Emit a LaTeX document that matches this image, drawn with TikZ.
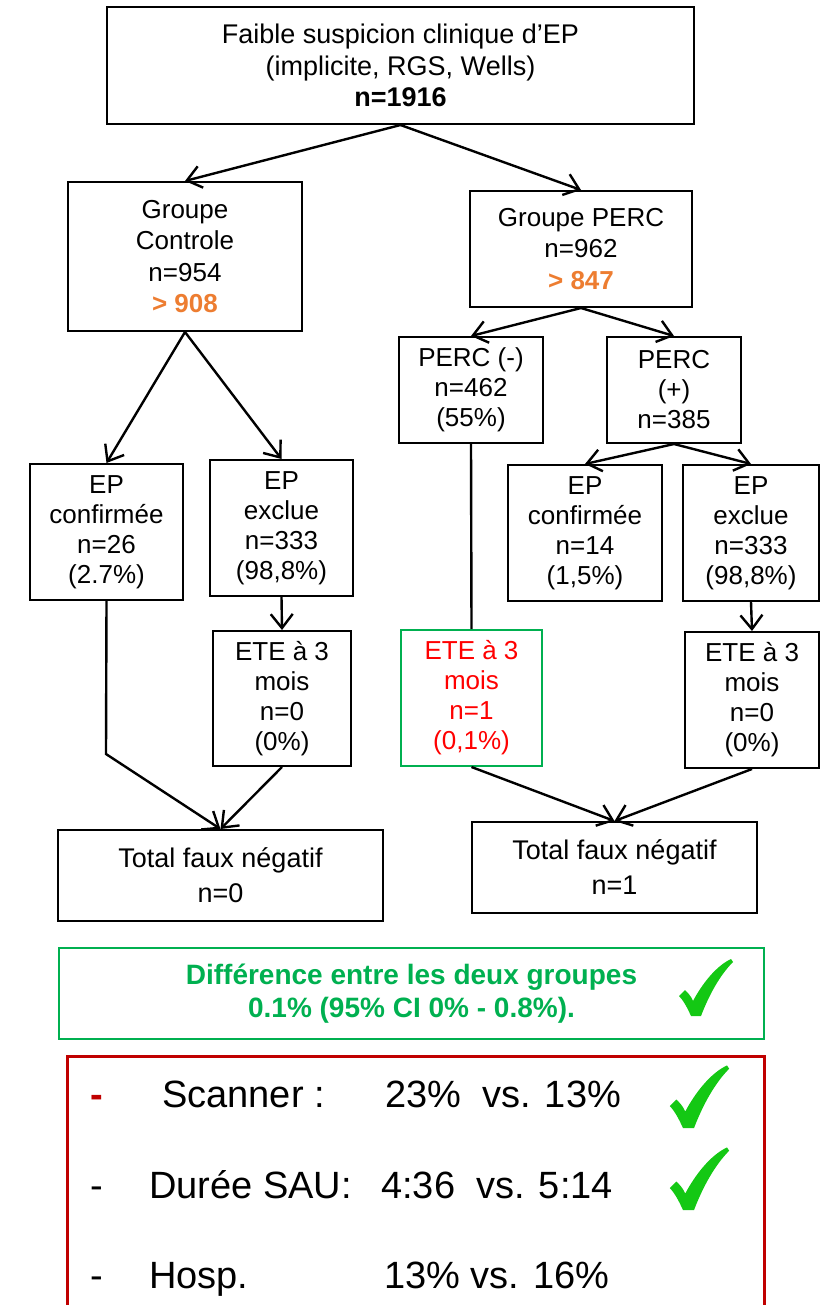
\documentclass[tikz,border=0pt]{standalone}
\usepackage{fontspec}
\setmainfont{Liberation Sans}
\usetikzlibrary{arrows.meta}
\definecolor{perco}{RGB}{237,125,49}
\definecolor{diffgreen}{RGB}{0,176,80}
\definecolor{okgreen}{RGB}{20,200,20}
\definecolor{darkred}{RGB}{192,0,0}
% green tick, #1 = bottom point, #2 = scale
\newcommand{\okmark}[2]{\fill[okgreen, shift={#1}, scale=#2] (0,1) .. controls (-4,-8) and (-8,-15) .. (-12,-19) -- (-6,-25) .. controls (-3,-22) and (0,-19) .. (2,-14) .. controls (11,-31) and (25,-49) .. (40,-56) -- (42,-53) .. controls (29,-40) and (18,-20) .. (10,1) -- cycle;}
\begin{document}
\begin{tikzpicture}[x=1pt, y=-1pt,
    box/.style={draw, line width=2pt, align=center, inner sep=0pt, font=\fontsize{26}{30}\selectfont},
    arr/.style={-{Straight Barb[length=14pt, width=22pt]}, line width=2.4pt},
    row/.style={anchor=base west, inner sep=0pt, font=\fontsize{38}{40}\selectfont}]
    \useasboundingbox (0,0) rectangle (819,1305);
    % tree
    \node[box, minimum width=587pt, minimum height=117pt, font=\fontsize{27}{31.5}\selectfont] (start) at (400.5,65.5) {Faible suspicion clinique d’EP\\(implicite, RGS, Wells)\\\textbf{n=1916}};
    \node[box, minimum width=234pt, minimum height=149pt, font=\fontsize{26}{31.5}\selectfont] (ctrl) at (185,256.5) {Groupe\\Controle\\n=954\\\textcolor{perco}{\textbf{> 908}}};
    \node[box, minimum width=222pt, minimum height=116pt, font=\fontsize{26}{31.5}\selectfont] (perc) at (581,249) {Groupe PERC\\n=962\\\textcolor{perco}{\textbf{> 847}}};
    \node[box, minimum width=144pt, minimum height=106pt] (percneg) at (471,390) {PERC (-)\\n=462\\(55\%)};
    \node[box, minimum width=134pt, minimum height=106pt] (percpos) at (674,390) {PERC\\(+)\\n=385};
    \node[box, minimum width=153pt, minimum height=136pt] (confa) at (106.5,532) {EP\\confirmée\\n=26\\(2.7\%)};
    \node[box, minimum width=143pt, minimum height=136pt] (exca) at (281.5,528) {EP\\exclue\\n=333\\(98,8\%)};
    \node[box, minimum width=138pt, minimum height=135pt] (etea) at (282,698.5) {ETE à 3\\mois\\n=0\\(0\%)};
    \node[box, minimum width=325pt, minimum height=91pt, font=\fontsize{27}{35}\selectfont] (tota) at (220.5,875.5) {Total faux négatif\\n=0};
    \node[box, minimum width=154pt, minimum height=136pt] (confb) at (585,533) {EP\\confirmée\\n=14\\(1,5\%)};
    \node[box, minimum width=136pt, minimum height=136pt] (excb) at (751,533) {EP\\exclue\\n=333\\(98,8\%)};
    \node[box, draw=diffgreen, text=red, minimum width=141pt, minimum height=136pt] (eteneg) at (471.5,698) {ETE à 3\\mois\\n=1\\(0,1\%)};
    \node[box, minimum width=134pt, minimum height=136pt] (eteb) at (752,700) {ETE à 3\\mois\\n=0\\(0\%)};
    \node[box, minimum width=285pt, minimum height=91pt, font=\fontsize{27}{35}\selectfont] (totb) at (614.5,867.5) {Total faux négatif\\n=1};
    \foreach \a/\b in {start/ctrl, start/perc, perc/percneg, perc/percpos, ctrl/confa, ctrl/exca, exca/etea, etea/tota, percpos/confb, percpos/excb, excb/eteb, eteneg/totb, eteb/totb}
        \draw[arr] (\a.south) -- (\b.north);
    \draw[line width=2.4pt] (percneg.south) -- (eteneg.north);
    \coordinate (bend) at (106,754);
    \draw[arr] (confa.south) -- (bend) -- (tota.north);
    % summary
    \node[box, draw=diffgreen, line width=1.5pt, text=diffgreen, minimum width=705pt, minimum height=91pt, font=\fontsize{28}{33}\selectfont\bfseries] (diff) at (411.5,993.5) {Différence entre les deux groupes\\0.1\% (95\% CI 0\% - 0.8\%).};
    \okmark{(691,1015)}{1}
    \draw[darkred, line width=3pt] (67,1056) rectangle (764,1330);
    \node[row, text=darkred] (dasha) at (90,1107) {\textbf{-}};
    \node[row] (scan) at (162,1107) {Scanner :};
    \node[row] (scanv) at (385,1107) {23\%\ \ vs. 13\%};
    \node[row] (dashb) at (90,1198) {-};
    \node[row] (sau) at (149,1198) {Durée SAU:};
    \node[row] (sauv) at (381,1198) {4:36\ \ vs. 5:14};
    \node[row] (dashc) at (90,1288) {-};
    \node[row] (hosp) at (149,1288) {Hosp.};
    \node[row] (hospv) at (384,1288) {13\% vs. 16\%};
    \okmark{(683,1127)}{1.1}
    \okmark{(683,1209)}{1.1}
\end{tikzpicture}
\end{document}
